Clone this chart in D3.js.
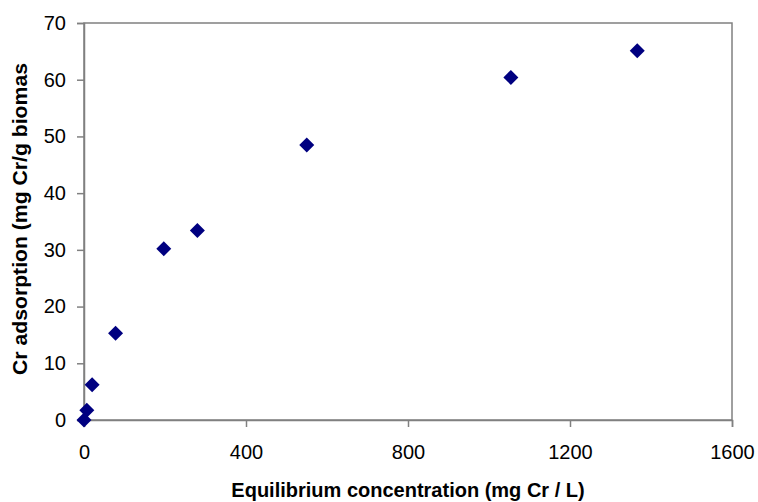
<!DOCTYPE html>
<html><head><meta charset="utf-8">
<script src="https://cdn.jsdelivr.net/npm/d3@7"></script>
<style>body{margin:0;background:#fff}</style>
</head><body>
<svg id="c" width="758" height="502"></svg>
<script>
const xValues = [0, 7, 20, 78, 197, 280, 550, 1054, 1366];
const yValues = [0, 1.7, 6.2, 15.3, 30.2, 33.4, 48.5, 60.4, 65.1];
const xTicks = [0, 400, 800, 1200, 1600];
const yTicks = [0, 10, 20, 30, 40, 50, 60, 70];
const xTitle = "Equilibrium concentration (mg Cr / L)";
const yTitle = "Cr adsorption (mg Cr/g biomas";

const svg = d3.select("#c");
const L = 84, R = 732, T = 23, B = 420;
const x = d3.scaleLinear().domain([0, 1600]).range([L, R]);
const y = d3.scaleLinear().domain([0, 70]).range([B, T]);
const font = "'Liberation Sans', Arial, sans-serif";

svg.append("rect").attr("x", L).attr("y", T).attr("width", R - L).attr("height", B - T)
  .attr("fill", "none").attr("stroke", "#808080").attr("stroke-width", 1.5);

const gx = svg.append("g").attr("transform", `translate(0,${B})`)
  .call(d3.axisBottom(x).tickValues(xTicks).tickSize(7).tickPadding(18).tickFormat(d3.format("d")));
const gy = svg.append("g").attr("transform", `translate(${L},0)`)
  .call(d3.axisLeft(y).tickValues(yTicks).tickSize(7).tickPadding(11).tickFormat(d3.format("d")));
[gx, gy].forEach(g => {
  g.select(".domain").attr("stroke", "#808080").attr("stroke-width", 1.5);
  g.selectAll(".tick line").attr("stroke", "#808080").attr("stroke-width", 1.5);
  g.selectAll(".tick text").attr("fill", "#000").style("font-family", font).style("font-size", "20px");
});

const data = xValues.map((v, i) => ({x: v, y: yValues[i]}));
svg.append("g").selectAll("path").data(data).join("path")
  .attr("transform", d => `translate(${x(d.x)},${y(d.y)})`)
  .attr("d", "M0,-7.5L7.5,0L0,7.5L-7.5,0Z")
  .attr("fill", "#000080");

svg.append("text").attr("transform", `translate(${(L + R) / 2},497)`).attr("text-anchor", "middle")
  .style("font-family", font).style("font-size", "20px").style("font-weight", "bold").text(xTitle);
svg.append("text").attr("transform", "translate(27,219) rotate(-90) scale(1.06,1)").attr("text-anchor", "middle")
  .style("font-family", font).style("font-size", "20px").style("font-weight", "bold").text(yTitle);
</script>
</body></html>
